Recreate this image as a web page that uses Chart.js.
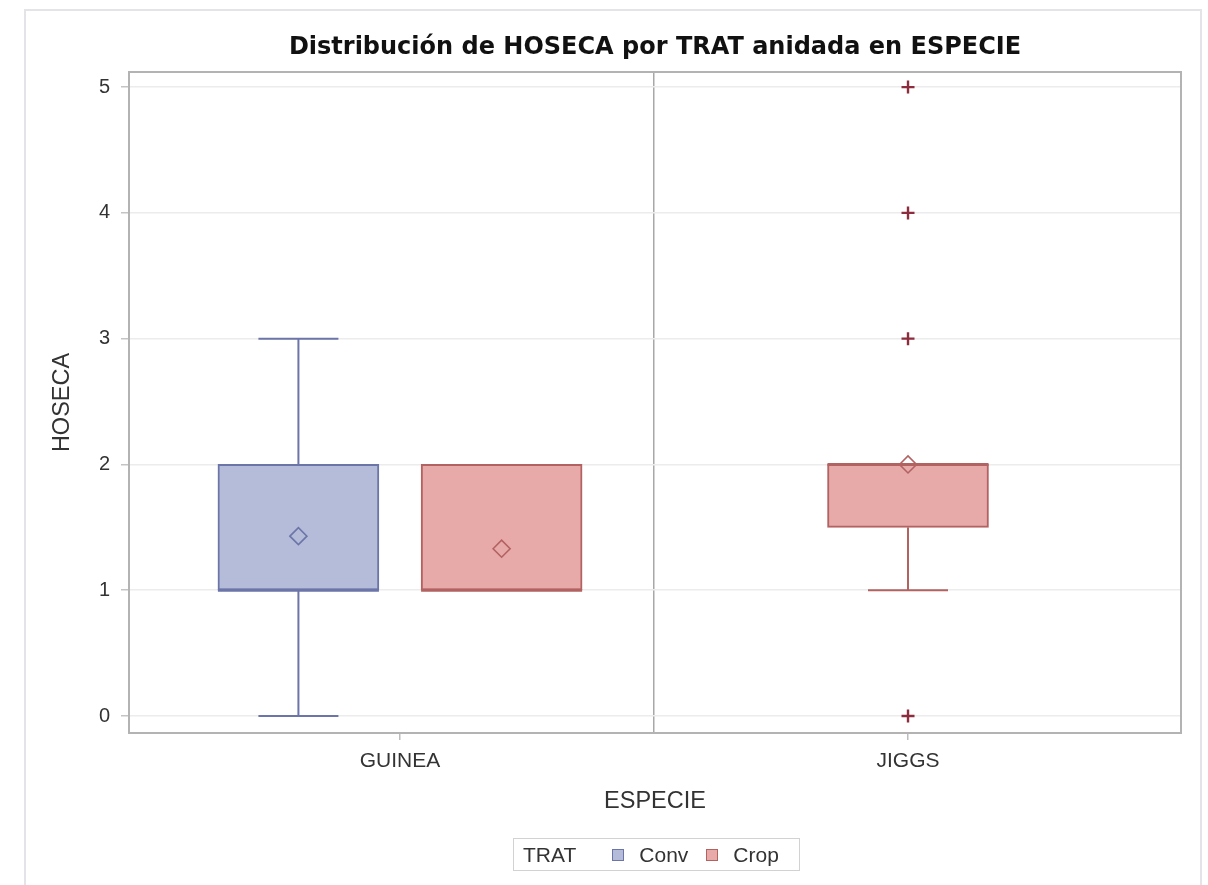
<!DOCTYPE html>
<html lang="es">
<head>
<meta charset="utf-8">
<title>Distribución de HOSECA por TRAT anidada en ESPECIE</title>
<script src="https://cdn.jsdelivr.net/npm/chart.js@4.4.1/dist/chart.umd.min.js"></script>
<style>
  html, body { margin: 0; padding: 0; background: #fff; }
  #marco {
    position: absolute; left: 24px; top: 9px; width: 1174px; height: 900px;
    border: 2px solid #e4e4e8; border-bottom: none;
  }
  #contenedor { position: absolute; left: 0; top: 0; width: 1208px; height: 885px; }
  #leyenda {
    position: absolute; left: 513px; top: 838px; width: 285px; height: 31px;
    border: 1px solid #d2d2d2; display: flex; align-items: center;
    font-family: "Liberation Sans", Arial, sans-serif; font-size: 21px; color: #333;
  }
  #leyenda span { flex-shrink: 0; }
  #leyenda .titulo { margin-left: 9px; margin-right: 36px; }
  #leyenda .muestra { width: 10px; height: 10px; border: 1px solid; margin-right: 15px; }
  #leyenda .etiqueta { margin-right: 18px; }
  #leyenda .etiqueta:last-child { margin-right: 0; }
</style>
</head>
<body>
<div id="marco"></div>
<div id="contenedor"><canvas id="graficoCaja"></canvas></div>
<div id="leyenda"></div>

<script>
// Categorías y niveles
const especies = ['GUINEA', 'JIGGS'];
const tratamientos = ['Conv', 'Crop'];

// Un grupo por combinación ESPECIE x TRAT presente en los datos
const grupoEspecie = ['GUINEA', 'GUINEA', 'JIGGS'];
const grupoTrat = ['Conv', 'Crop', 'Crop'];
const minimo = [0, 1, 1];
const cuartil1 = [1, 1, 1.5];
const mediana = [1, 1, 2];
const cuartil3 = [2, 2, 2];
const maximo = [3, 2, 2];
const media = [1.43, 1.33, 2.0];

// Valores atípicos (JIGGS / Crop)
const atipicosEspecie = ['JIGGS', 'JIGGS', 'JIGGS', 'JIGGS'];
const atipicosValor = [0, 3, 4, 5];

const ticksY = [0, 1, 2, 3, 4, 5];

const estilo = {
  Conv: { relleno: '#b4bcd9', borde: '#6b75a8' },
  Crop: { relleno: '#e8a9a9', borde: '#b36262' }
};
const colorAtipico = '#8c2c3c';

// posición horizontal de cada grupo dentro de su especie
function posicionGrupo(i) {
  const base = especies.indexOf(grupoEspecie[i]);
  const hermanos = grupoEspecie.map((e, k) => k).filter(k => grupoEspecie[k] === grupoEspecie[i]);
  if (hermanos.length === 1) return base;
  const orden = hermanos.indexOf(i);
  return base + (orden - (hermanos.length - 1) / 2) * 0.4;
}

const grupos = grupoEspecie.map((e, i) => i);

function cajas(trat) {
  return grupos.filter(i => grupoTrat[i] === trat)
    .map(i => ({ x: posicionGrupo(i), y: [cuartil1[i], cuartil3[i]] }));
}

function bigotes(trat) {
  const puntos = [];
  grupos.filter(i => grupoTrat[i] === trat).forEach(i => {
    const x = posicionGrupo(i);
    if (minimo[i] < cuartil1[i]) puntos.push({ x, y: minimo[i] }, { x, y: cuartil1[i] }, { x, y: null });
    if (maximo[i] > cuartil3[i]) puntos.push({ x, y: cuartil3[i] }, { x, y: maximo[i] }, { x, y: null });
  });
  return puntos;
}

function topes(trat) {
  const puntos = [];
  grupos.filter(i => grupoTrat[i] === trat).forEach(i => {
    const x = posicionGrupo(i);
    if (minimo[i] < cuartil1[i]) puntos.push({ x, y: minimo[i] });
    if (maximo[i] > cuartil3[i]) puntos.push({ x, y: maximo[i] });
  });
  return puntos;
}

function medianas(trat) {
  return grupos.filter(i => grupoTrat[i] === trat).map(i => ({ x: posicionGrupo(i), y: mediana[i] }));
}

function medias(trat) {
  return grupos.filter(i => grupoTrat[i] === trat).map(i => ({ x: posicionGrupo(i), y: media[i] }));
}

const datasets = [];
tratamientos.forEach(trat => {
  const c = estilo[trat];
  datasets.push({
    type: 'bar', label: trat, data: cajas(trat), grouped: false,
    backgroundColor: c.relleno, borderColor: c.borde, borderWidth: 2,
    borderSkipped: false, barThickness: 161, order: 6
  });
  datasets.push({
    type: 'scatter', data: bigotes(trat), showLine: true, spanGaps: false,
    borderColor: c.borde, borderWidth: 2, pointRadius: 0, order: 5
  });
  datasets.push({
    type: 'scatter', data: topes(trat), pointStyle: 'line', pointRadius: 40,
    borderColor: c.borde, borderWidth: 2, order: 4
  });
  datasets.push({
    type: 'scatter', data: medianas(trat), pointStyle: 'line', pointRadius: 80.5,
    borderColor: c.borde, borderWidth: 3, order: 3
  });
  datasets.push({
    type: 'scatter', data: medias(trat), pointStyle: 'rectRot', pointRadius: 8.5,
    backgroundColor: 'rgba(0,0,0,0)', borderColor: c.borde, borderWidth: 1.6, order: 2
  });
});
datasets.push({
  type: 'scatter',
  data: atipicosValor.map((v, k) => ({ x: especies.indexOf(atipicosEspecie[k]), y: v })),
  pointStyle: 'cross', pointRadius: 6.5, borderColor: colorAtipico, borderWidth: 2.4, order: 1
});

// marco completo del área de trazado
const marcoPlot = {
  id: 'marcoPlot',
  afterDatasetsDraw(chart) {
    const { ctx, chartArea: a } = chart;
    ctx.save();
    ctx.strokeStyle = '#b3b3b3';
    ctx.lineWidth = 2;
    ctx.strokeRect(a.left, a.top, a.right - a.left, a.bottom - a.top);
    ctx.restore();
  }
};

const fuente = '"Liberation Sans", Arial, sans-serif';

new Chart(document.getElementById('graficoCaja'), {
  type: 'bar',
  data: { datasets },
  plugins: [marcoPlot],
  options: {
    responsive: true,
    maintainAspectRatio: false,
    animation: false,
    layout: { autoPadding: false, padding: { left: 30, right: 27, top: 0, bottom: 65 } },
    plugins: {
      legend: { display: false },
      tooltip: { enabled: false },
      title: {
        display: true,
        fullSize: false,
        text: 'Distribución de HOSECA por TRAT anidada en ESPECIE',
        color: '#111',
        font: { family: '"DejaVu Sans", Verdana, sans-serif', size: 24, weight: 'bold', lineHeight: 1.2 },
        padding: { top: 33.5, bottom: 9.7 }
      }
    },
    scales: {
      x: {
        type: 'linear',
        offset: false,
        min: -0.5335,
        max: 1.5374,
        afterBuildTicks: s => { s.ticks = [0, 0.5, 1].map(v => ({ value: v })); },
        afterFit: s => { s.height = 87; s.paddingLeft = 0; s.paddingRight = 0; },
        ticks: {
          autoSkip: false, maxRotation: 0, padding: 9, color: '#333',
          font: { family: fuente, size: 21 },
          callback: v => (Number.isInteger(v) ? especies[v] : '')
        },
        grid: {
          offset: false,
          color: c => (c.tick && c.tick.value === 0.5 ? '#a8a8a8' : 'rgba(0,0,0,0)'),
          tickColor: c => (c.tick && c.tick.value === 0.5 ? 'rgba(0,0,0,0)' : '#bdbdbd'),
          lineWidth: 1.5, tickLength: 7
        },
        border: { display: false },
        title: {
          display: true, text: 'ESPECIE', color: '#333',
          font: { family: fuente, size: 23.5, lineHeight: 1.2 },
          padding: { top: 0, bottom: 4 }
        }
      },
      y: {
        min: -0.135,
        max: 5.12,
        afterBuildTicks: s => { s.ticks = ticksY.map(v => ({ value: v })); },
        afterFit: s => { s.width = 99; s.paddingTop = 0; s.paddingBottom = 0; },
        ticks: { padding: 11, color: '#333', font: { family: fuente, size: 20 } },
        grid: { color: '#ececec', lineWidth: 1.5, tickColor: '#c4c4c4', tickLength: 8 },
        border: { display: false },
        title: {
          display: true, text: 'HOSECA', color: '#333',
          font: { family: fuente, size: 23.5, lineHeight: 1.2 },
          padding: { top: 18, bottom: 0 }
        }
      }
    }
  }
});

// leyenda inferior con el título de grupo TRAT
const leyenda = document.getElementById('leyenda');
leyenda.innerHTML = '<span class="titulo">TRAT</span>' + tratamientos.map(t =>
  `<span class="muestra" style="background:${estilo[t].relleno};border-color:${estilo[t].borde}"></span>` +
  `<span class="etiqueta">${t}</span>`).join('');
</script>
</body>
</html>
